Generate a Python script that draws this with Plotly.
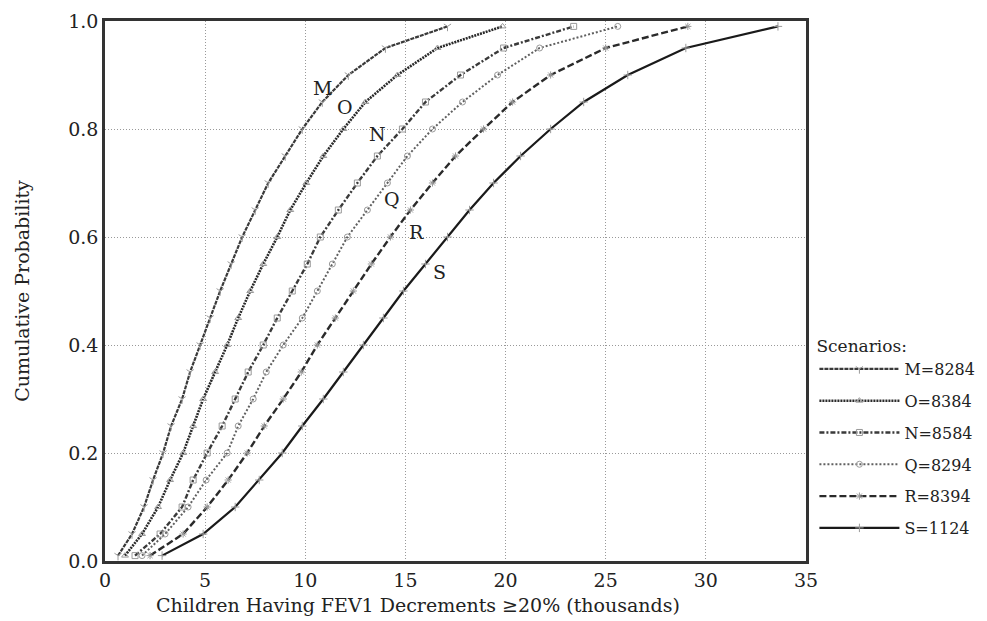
import plotly.graph_objects as go

# cumulative probability levels
prob = [0.01, 0.05, 0.10, 0.15, 0.20, 0.25, 0.30, 0.35, 0.40, 0.45, 0.50,
        0.55, 0.60, 0.65, 0.70, 0.75, 0.80, 0.85, 0.90, 0.95, 0.99]

# children (thousands) per scenario at each probability level
m_8284 = [0.65, 1.35, 1.95, 2.4, 2.9, 3.3, 3.85, 4.25, 4.75, 5.25, 5.75,
          6.3, 6.85, 7.5, 8.15, 9.0, 9.85, 10.85, 12.15, 14.0, 17.1]
o_8384 = [1.0, 1.85, 2.65, 3.25, 3.9, 4.4, 4.9, 5.5, 6.1, 6.65, 7.25,
          7.9, 8.6, 9.25, 10.05, 10.9, 11.9, 13.0, 14.6, 16.6, 19.85]
n_8584 = [1.5, 2.75, 3.85, 4.4, 5.1, 5.85, 6.5, 7.15, 7.9, 8.6, 9.35,
          10.1, 10.75, 11.65, 12.6, 13.6, 14.85, 16.0, 17.75, 19.9, 23.4]
q_8294 = [1.85, 3.0, 4.15, 5.05, 6.1, 6.65, 7.4, 8.05, 8.9, 9.85, 10.6,
          11.35, 12.1, 13.1, 14.1, 15.1, 16.35, 17.85, 19.6, 21.7, 25.6]
r_8394 = [2.25, 3.9, 5.1, 6.15, 7.1, 7.95, 8.9, 9.8, 10.6, 11.5, 12.4,
          13.3, 14.25, 15.25, 16.35, 17.5, 18.9, 20.35, 22.25, 25.0, 29.1]
s_1124 = [2.85, 4.9, 6.5, 7.7, 8.85, 9.85, 10.9, 11.9, 12.9, 13.9, 14.9,
          16.0, 17.1, 18.2, 19.4, 20.75, 22.25, 23.9, 26.1, 29.0, 33.6]

names = ["M=8284", "O=8384", "N=8584", "Q=8294", "R=8394", "S=1124"]
series = [m_8284, o_8384, n_8584, q_8294, r_8394, s_1124]
letters = ["M", "O", "N", "Q", "R", "S"]
label_x = [10.85, 12.0, 13.6, 14.35, 15.55, 16.7]
label_y = [0.876, 0.84, 0.79, 0.67, 0.61, 0.535]

dashes = ["4px,1px", "2px,1px", "5px,2px,2px,2px", "2px,2px", "7px,3px", "solid"]
symbols = ["y-down-open", "triangle-up-open", "square-open", "circle-open",
           "asterisk-open", "cross-thin-open"]
colors = ["#3a3a3a", "#2a2a2a", "#3a3a3a", "#606060", "#2a2a2a", "#1a1a1a"]
widths = [2.2, 2.6, 2.4, 2.0, 2.4, 2.2]

FONT = "DejaVu Serif, Liberation Serif, serif"
FS = 19

fig = go.Figure()
for nm, xs, ds, sy, c, w in zip(names, series, dashes, symbols, colors, widths):
    fig.add_trace(go.Scatter(
        x=xs, y=prob, mode="lines+markers", name=nm, legendgroup=nm,
        line=dict(color=c, width=w, dash=ds),
        marker=dict(symbol=sy, size=6, color="#9a9a9a",
                    line=dict(color="#9a9a9a", width=1)),
    ))

for lt, lx, ly in zip(letters, label_x, label_y):
    fig.add_annotation(x=lx, y=ly, text=lt, showarrow=False,
                       font=dict(family=FONT, size=FS, color="#222"))

# x-axis title (offset left of the plot centre, as in the original)
fig.add_annotation(text="Children Having FEV1 Decrements ≥20% (thousands)",
                   xref="paper", yref="paper", x=0.4465, y=-0.058,
                   xanchor="center", yanchor="top", showarrow=False,
                   font=dict(family=FONT, size=19, color="#222"))

fig.update_layout(
    width=979, height=613,
    margin=dict(l=97, r=181, t=13, b=60, autoexpand=False),
    paper_bgcolor="white", plot_bgcolor="white",
    font=dict(family=FONT, size=FS, color="#222"),
    legend=dict(
        title=dict(text="Scenarios:", font=dict(family=FONT, size=17)),
        x=1.012, xanchor="left", y=0.428, yanchor="top",
        font=dict(family=FONT, size=16),
        itemwidth=80, tracegroupgap=8,
        bgcolor="rgba(0,0,0,0)",
    ),
    xaxis=dict(
        range=[0, 35], tickmode="array", tickvals=[0, 5, 10, 15, 20, 25, 30, 35],
        showgrid=True, gridcolor="#999999", griddash="1px,2px", gridwidth=1,
        showline=True, linecolor="#333", linewidth=2.5, mirror=True,
        zeroline=False, ticks="", automargin=False,
        tickfont=dict(family=FONT, size=FS),
    ),
    yaxis=dict(
        range=[0, 1], tickmode="array", tickvals=[0, 0.2, 0.4, 0.6, 0.8, 1.0],
        ticktext=["0.0", "0.2", "0.4", "0.6", "0.8", "1.0"],
        showgrid=True, gridcolor="#999999", griddash="1px,2px", gridwidth=1,
        showline=True, linecolor="#333", linewidth=2.5, mirror=True,
        zeroline=False, ticks="", automargin=False,
        title=dict(text="Cumulative Probability",
                   font=dict(family=FONT, size=FS), standoff=34),
        tickfont=dict(family=FONT, size=FS),
    ),
)

fig.write_html("out.html")
